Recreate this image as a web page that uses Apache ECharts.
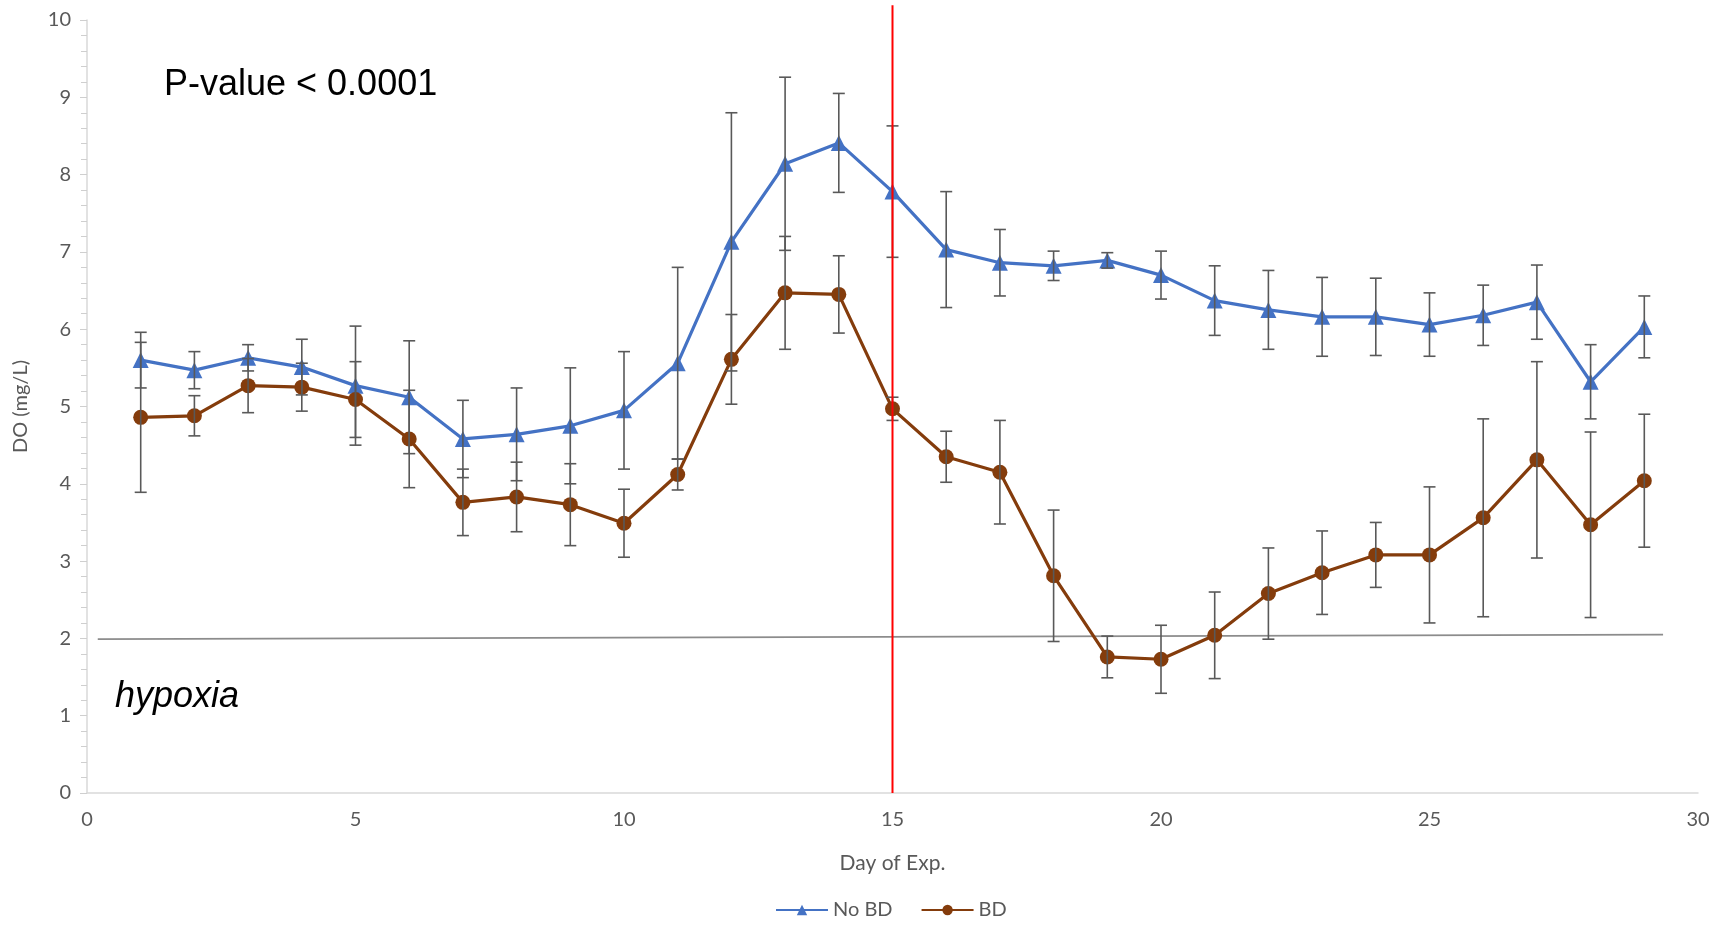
<!DOCTYPE html>
<html>
<head>
<meta charset="utf-8">
<script src="https://cdn.jsdelivr.net/npm/echarts@6/dist/echarts.min.js"></script>
<style>html,body{margin:0;padding:0;background:#fff}#c{width:1715px;height:925px}</style>
</head>
<body>
<div id="c"></div>
<script>
const days = [1,2,3,4,5,6,7,8,9,10,11,12,13,14,15,16,17,18,19,20,21,22,23,24,25,26,27,28,29];
const noBD = [5.60,5.47,5.63,5.51,5.27,5.12,4.58,4.64,4.75,4.95,5.56,7.13,8.14,8.41,7.78,7.03,6.86,6.82,6.89,6.70,6.37,6.25,6.16,6.16,6.06,6.18,6.35,5.32,6.03];
const noBDErr = [0.36,0.24,0.17,0.36,0.77,0.73,0.50,0.60,0.75,0.76,1.24,1.67,1.12,0.64,0.85,0.75,0.43,0.19,0.10,0.31,0.45,0.51,0.51,0.50,0.41,0.39,0.48,0.48,0.40];
const bd = [4.86,4.88,5.27,5.25,5.09,4.58,3.76,3.83,3.73,3.49,4.12,5.61,6.47,6.45,4.97,4.35,4.15,2.81,1.76,1.73,2.04,2.58,2.85,3.08,3.08,3.56,4.31,3.47,4.04];
const bdErr = [0.97,0.26,0.35,0.31,0.49,0.63,0.43,0.45,0.53,0.44,0.20,0.58,0.73,0.50,0.15,0.33,0.67,0.85,0.27,0.44,0.56,0.59,0.54,0.42,0.88,1.28,1.27,1.20,0.86];
const hypoxiaLine = [[0.2,1.99],[29.35,2.05]];
const treatmentLine = [[15,0],[15,10.19]];
const seriesNames = ['No BD','BD'];
const xAxisName = 'Day of Exp.';
const yAxisName = 'DO (mg/L)';
const pValueText = 'P-value < 0.0001';
const hypoxiaText = 'hypoxia';

const BLUE = '#4472C4', BROWN = '#843C0C', ERR = '#595959', TXT = '#595959';
const FONT = 'Lato';

function errData(vals, errs){ return days.map((d,i)=>[d, vals[i]-errs[i], vals[i]+errs[i]]); }
function errRender(params, api){
  const x = api.value(0), lo = api.value(1), hi = api.value(2);
  const p1 = api.coord([x, hi]), p2 = api.coord([x, lo]);
  const w = 6;
  const st = {stroke: ERR, lineWidth: 1.6};
  return {type:'group', children:[
    {type:'line', shape:{x1:p1[0],y1:p1[1],x2:p2[0],y2:p2[1]}, style:st},
    {type:'line', shape:{x1:p1[0]-w,y1:p1[1],x2:p1[0]+w,y2:p1[1]}, style:st},
    {type:'line', shape:{x1:p2[0]-w,y1:p2[1],x2:p2[0]+w,y2:p2[1]}, style:st}
  ]};
}

const chart = echarts.init(document.getElementById('c'), null, {renderer:'canvas'});
chart.setOption({
  animation: false,
  backgroundColor: '#fff',
  grid: {left: 87, right: 17, top: 20, bottom: 132},
  legend: {
    data: seriesNames, left: 770, bottom: 0, itemWidth: 52, itemHeight: 13, itemGap: 28,
    textStyle: {color: TXT, fontFamily: FONT, fontSize: 20}
  },
  xAxis: {
    type: 'value', min: 0, max: 30, interval: 5,
    name: xAxisName, nameLocation: 'middle', nameGap: 60,
    nameTextStyle: {color: TXT, fontFamily: FONT, fontSize: 21},
    axisLine: {show: true, lineStyle: {color: '#d9d9d9', width: 1.5}},
    axisTick: {show: false},
    splitLine: {show: false},
    axisLabel: {color: TXT, fontFamily: FONT, fontSize: 20, margin: 17}
  },
  yAxis: {
    type: 'value', min: 0, max: 10, interval: 1,
    name: yAxisName, nameLocation: 'middle', nameGap: 56,
    nameTextStyle: {color: TXT, fontFamily: FONT, fontSize: 20},
    axisLine: {show: true, lineStyle: {color: '#d9d9d9', width: 1.5}},
    axisTick: {show: true, length: 7, lineStyle: {color: '#cfcfcf'}},
    minorTick: {show: true, splitNumber: 5, length: 6, lineStyle: {color: '#cfcfcf'}},
    splitLine: {show: false},
    axisLabel: {color: TXT, fontFamily: FONT, fontSize: 20, margin: 16}
  },
  graphic: [
    {type:'text', left: 164, top: 67, style:{text: pValueText, font: '36px "Liberation Sans"', fill:'#000'}},
    {type:'text', left: 115, top: 679, style:{text: hypoxiaText, font: 'italic 36px "Liberation Sans"', fill:'#000'}}
  ],
  series: [
    {type:'line', name:'hypoxia-threshold', data: hypoxiaLine, symbol:'none', silent:true,
     lineStyle:{color:'#8c8c8c', width:1.8}, z:1},
    {type:'line', name: seriesNames[0], data: days.map((d,i)=>[d,noBD[i]]),
     symbol:'triangle', symbolSize: 16, itemStyle:{color: BLUE}, lineStyle:{color: BLUE, width: 3.2}, z:3},
    {type:'line', name: seriesNames[1], data: days.map((d,i)=>[d,bd[i]]),
     symbol:'circle', symbolSize: 15, itemStyle:{color: BROWN}, lineStyle:{color: BROWN, width: 3.2}, z:4},
    {type:'custom', name:'err-nobd', data: errData(noBD,noBDErr), renderItem: errRender,
     encode:{x:0, y:[1,2]}, z:5, silent:true},
    {type:'custom', name:'err-bd', data: errData(bd,bdErr), renderItem: errRender,
     encode:{x:0, y:[1,2]}, z:5, silent:true},
    {type:'line', name:'treatment', data: treatmentLine, symbol:'none', clip:false, silent:true,
     lineStyle:{color:'#ff0000', width:2}, z:6}
  ]
});
</script>
</body>
</html>
